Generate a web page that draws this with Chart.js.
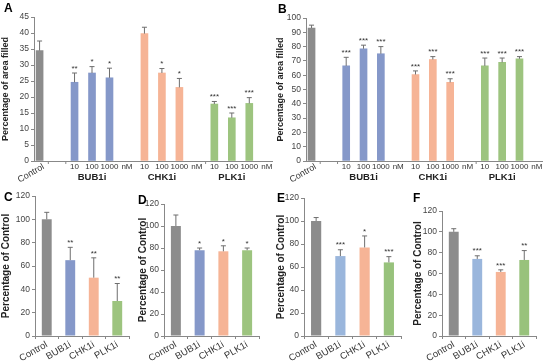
<!DOCTYPE html>
<html>
<head>
<meta charset="utf-8">
<script src="https://cdn.jsdelivr.net/npm/chart.js@4"></script>
<style>
  body { margin: 0; background: #fff; }
  #fig { position: relative; width: 550px; height: 362px; }
  .p { position: absolute; }
</style>
</head>
<body>
<div id="fig">
  <div class="p" style="left:0;top:0;width:275px;height:182px"><canvas id="cA"></canvas></div>
  <div class="p" style="left:275px;top:0;width:275px;height:182px"><canvas id="cB"></canvas></div>
  <div class="p" style="left:0;top:182px;width:137px;height:180px"><canvas id="cC"></canvas></div>
  <div class="p" style="left:137px;top:182px;width:138px;height:180px"><canvas id="cD"></canvas></div>
  <div class="p" style="left:275px;top:182px;width:137px;height:180px"><canvas id="cE"></canvas></div>
  <div class="p" style="left:412px;top:182px;width:138px;height:180px"><canvas id="cF"></canvas></div>
</div>
<script>
// panels A and B: dose response
const doseLabels = ["Control", "", "10", "100", "1000", "nM", "10", "100", "1000", "nM", "10", "100", "1000", "nM"];
const groupLabels = ["BUB1i", "CHK1i", "PLK1i"];
const aValues = [34.5, null, 24.6, 27.5, 26, null, 39.8, 27.5, 23, null, 17.8, 13.5, 18, null];
const aErrors = [3, null, 2.9, 2, 3, null, 2, 1.4, 2.8, null, 0.8, 1.5, 1.8, null];
const aStars = ["", null, "**", "*", "*", null, "", "*", "*", null, "***", "***", "***", null];
const bValues = [93, null, 66.5, 78.5, 75, null, 60.5, 71, 55, null, 66.5, 69, 71.5, null];
const bErrors = [2, null, 6, 2.5, 5, null, 2.5, 2, 2.5, null, 5.5, 3, 1.5, null];
const bStars = ["", null, "***", "***", "***", null, "***", "***", "***", null, "***", "***", "***", null];

// panels C-F
const drugLabels = ["Control", "BUB1i", "CHK1i", "PLK1i"];
const cValues = [100, 65, 50, 30];
const cErrors = [6, 11, 17, 15];
const cStars = ["", "**", "**", "**"];
const dValues = [100, 78, 77, 78];
const dErrors = [10, 2, 5, 2];
const dStars = ["", "*", "*", "*"];
const eValues = [100, 69.5, 77, 64];
const eErrors = [3, 5.5, 10, 5];
const eStars = ["", "***", "*", "***"];
const fValues = [100, 74, 61.5, 73];
const fErrors = [3, 3, 2, 9];
const fStars = ["", "***", "***", "**"];

const FONT = "'Liberation Sans', Arial, sans-serif";
const GRAY = "#8c8c8c", BLUE = "#8598c9", SALMON = "#f6b496", GREEN = "#9dc47f";
const BLUE2 = "#9ab6dc", GREEN2 = "#98c27c";
const doseColors = [GRAY, null, BLUE, BLUE, BLUE, null, SALMON, SALMON, SALMON, null, GREEN, GREEN, GREEN, null];

const extras = {
  id: "extras",
  afterDatasetsDraw(chart, args, opts) {
    const ctx = chart.ctx, y = chart.scales.y, x = chart.scales.x;
    const area = chart.chartArea;
    ctx.save();
    chart.data.datasets.forEach((ds, di) => {
      const meta = chart.getDatasetMeta(di);
      meta.data.forEach((bar, i) => {
        const v = ds.vals[i], e = ds.errs[i];
        const top = y.getPixelForValue(v + e);
        ctx.strokeStyle = "#6e6e6e";
        ctx.lineWidth = 1;
        ctx.beginPath();
        ctx.moveTo(bar.x, bar.y);
        ctx.lineTo(bar.x, top);
        ctx.moveTo(bar.x - 2.5, top);
        ctx.lineTo(bar.x + 2.5, top);
        ctx.stroke();
        if (ds.stars[i]) {
          ctx.fillStyle = "#333";
          ctx.font = "8px " + FONT;
          ctx.textAlign = "center";
          ctx.textBaseline = "bottom";
          ctx.fillText(ds.stars[i], bar.x, top - 0.5);
        }
      });
    });
    if (opts.doses) {
      ctx.fillStyle = "#333";
      ctx.textBaseline = "middle";
      opts.doses.forEach((lab, i) => {
        if (!lab) return;
        const px = x.getPixelForValue(i);
        if (i === 0) {
          ctx.font = "9px " + FONT;
          ctx.save();
          ctx.translate(px + 4, area.bottom + 5);
          ctx.rotate(-Math.PI / 6);
          ctx.textAlign = "right";
          ctx.fillText(lab, 0, 0);
          ctx.restore();
        } else {
          ctx.font = "8px " + FONT;
          ctx.textAlign = "center";
          ctx.fillText(lab, px, area.bottom + 6);
        }
      });
      ctx.font = "bold 9.5px " + FONT;
      ctx.fillStyle = "#222";
      opts.groups.forEach((g, k) => {
        ctx.textAlign = "center";
        ctx.fillText(g, x.getPixelForValue(3 + 4 * k), area.bottom + 16);
      });
      ctx.strokeStyle = "#888";
      ctx.beginPath();
      opts.marks.forEach(m => {
        const px = x.getPixelForValue(m);
        ctx.moveTo(px, area.bottom);
        ctx.lineTo(px, area.bottom + 3);
      });
      ctx.stroke();
    }
    ctx.font = "bold 12px " + FONT;
    ctx.fillStyle = "#000";
    ctx.textAlign = "left";
    ctx.textBaseline = "alphabetic";
    ctx.fillText(opts.letter, opts.lx, opts.ly);
    ctx.restore();
  }
};

function yAxis(max, step, width, title, titleSize) {
  return {
    min: 0, max: max,
    ticks: { stepSize: step, color: "#444", font: { size: 8.5, family: FONT }, padding: 2 },
    grid: { drawOnChartArea: false, tickLength: 3, color: "#888" },
    border: { color: "#888" },
    title: { display: true, text: title, color: "#222", font: { size: titleSize, weight: "bold", family: FONT }, padding: { top: 0, bottom: 2 } },
    afterFit(s) { s.width = width; }
  };
}

function dosePanel(id, values, errors, stars, max, step, letter, lx, ly, axisW, pad) {
  const keep = values.map((v, i) => i).filter(i => values[i] !== null);
  new Chart(document.getElementById(id), {
    type: "bar",
    data: {
      datasets: [{
        data: keep.map(i => ({ x: i, y: values[i] })),
        vals: keep.map(i => values[i]),
        errs: keep.map(i => errors[i]),
        stars: keep.map(i => stars[i]),
        backgroundColor: keep.map(i => doseColors[i]),
        barThickness: 7
      }]
    },
    options: {
      responsive: true, maintainAspectRatio: false, animation: false,
      layout: { padding: pad },
      scales: {
        x: {
          type: "linear", min: -0.32, max: 13.3, offset: false,
          ticks: { display: false },
          grid: { display: false },
          border: { color: "#888" },
          afterFit(s) { s.height = 21; }
        },
        y: yAxis(max, step, axisW, "Percentage of area filled", 9)
      },
      plugins: {
        legend: { display: false },
        tooltip: { enabled: false },
        extras: { letter: letter, lx: lx, ly: ly, doses: doseLabels, groups: groupLabels, marks: [0.5, 1.5, 9.5] }
      }
    },
    plugins: [extras]
  });
}

function drugPanel(id, values, errors, stars, colors, letter, lx, ly, axisW, pad) {
  new Chart(document.getElementById(id), {
    type: "bar",
    data: {
      labels: drugLabels,
      datasets: [{
        data: values, vals: values, errs: errors, stars: stars,
        backgroundColor: colors,
        categoryPercentage: 1, barPercentage: 0.42
      }]
    },
    options: {
      responsive: true, maintainAspectRatio: false, animation: false,
      layout: { padding: pad },
      scales: {
        x: {
          ticks: { color: "#333", font: { size: 9.5, family: FONT }, minRotation: 30, maxRotation: 30, padding: 0, autoSkip: false },
          grid: { drawOnChartArea: false, tickLength: 3, color: "#888" },
          border: { color: "#888" },
          afterFit(s) { s.height = 26; }
        },
        y: yAxis(120, 20, axisW, "Percentage of Control", 10)
      },
      plugins: {
        legend: { display: false },
        tooltip: { enabled: false },
        extras: { letter: letter, lx: lx, ly: ly }
      }
    },
    plugins: [extras]
  });
}

dosePanel("cA", aValues, aErrors, aStars, 45, 5, "A", 4, 12, 34, { top: 17, right: 3 });
dosePanel("cB", bValues, bErrors, bStars, 100, 10, "B", 3, 13, 31, { top: 18, right: 8 });
drugPanel("cC", cValues, cErrors, cStars, [GRAY, BLUE, SALMON, GREEN], "C", 4, 19, 35, { top: 14, right: 8 });
drugPanel("cD", dValues, dErrors, dStars, [GRAY, BLUE, SALMON, GREEN], "D", 1, 22, 27, { top: 22, right: 16 });
drugPanel("cE", eValues, eErrors, eStars, [GRAY, BLUE2, SALMON, GREEN2], "E", 2, 20, 29, { top: 16, right: 11 });
drugPanel("cF", fValues, fErrors, fStars, [GRAY, BLUE2, SALMON, GREEN2], "F", 1, 20, 30, { top: 29, right: 14 });
</script>
</body>
</html>
